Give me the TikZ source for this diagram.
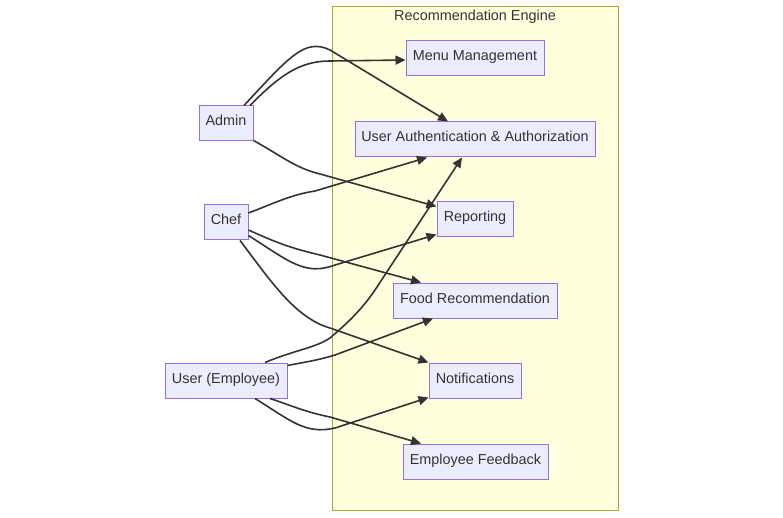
\documentclass[tikz,border=0pt]{standalone}
\usepackage{fontspec}
\setmainfont{Liberation Sans}
\usetikzlibrary{arrows.meta,calc}
\definecolor{nodefill}{HTML}{ECECFF}
\definecolor{nodeline}{HTML}{9370DB}
\definecolor{clusterfill}{HTML}{FFFFDE}
\definecolor{clusterline}{HTML}{AAAA33}
\definecolor{edgecol}{HTML}{333333}
\definecolor{textcol}{HTML}{333333}
\begin{document}
\begin{tikzpicture}[x=1pt,y=-1pt,
  box/.style={draw=nodeline,fill=nodefill,line width=1pt,minimum height=35pt,
    inner xsep=2pt,inner ysep=0pt,text height=10pt,text depth=5pt,
    text=textcol,font=\fontsize{14.4}{16}\selectfont},
  edge/.style={draw=edgecol,line width=1.6pt,-{Triangle[length=10pt,width=9pt]}}]
\useasboundingbox (0,0) rectangle (783,518);
\node[draw=clusterline,fill=clusterfill,line width=1pt,minimum width=286pt,minimum height=503pt,inner sep=0pt] (cluster) at (475,258.5) {};
\node[text=textcol,font=\fontsize{14.4}{16}\selectfont,anchor=base] (title) at (475,20.5) {Recommendation Engine};
\node[box,minimum width=138pt] (menu) at (475,58.5) {Menu Management};
\node[box,minimum width=240pt] (auth) at (475,139.5) {User Authentication \& Authorization};
\node[box,minimum width=76pt] (rep) at (475,219.5) {Reporting};
\node[box,minimum width=164pt] (food) at (475,300.5) {Food Recommendation};
\node[box,minimum width=92pt] (notif) at (475,380.5) {Notifications};
\node[box,minimum width=145pt] (fb) at (475.5,461.5) {Employee Feedback};
\node[box,minimum width=54pt] (admin) at (226,123.5) {Admin};
\node[box,minimum width=44pt] (chef) at (226,222.5) {Chef};
\node[box,minimum width=122pt] (user) at (226,380.5) {User (Employee)};
% Admin edges
\draw[edge] ($(admin.north)+(24,0)$) .. controls (280,75) and (300,61) .. (330,61) -- ($(menu.west)+(0,1.5)$);
\draw[edge] ($(admin.north)+(18,0)$) .. controls (290,56) and (305,38) .. (330,50) -- ($(auth.north)+(-27,0)$);
\draw[edge] ($(admin.south east)+(0,-1)$) .. controls (280,155) and (295,168) .. (320,174) -- ($(rep.north west)+(0,5)$);
% Chef edges
\draw[edge] ($(chef.east)+(0,-9.5)$) .. controls (275,203) and (290,195) .. (315,191) -- ($(auth.south)+(-48,0)$);
\draw[edge] ($(chef.south east)+(0,-5)$) .. controls (290,262) and (305,276) .. (335,265) -- ($(rep.south west)+(0,-3)$);
\draw[edge] ($(chef.east)+(0,7.5)$) .. controls (275,242) and (290,248) .. (320,255) -- ($(food.north)+(-54,0)$);
\draw[edge] ($(chef.south)+(14,0)$) .. controls (270,280) and (295,318) .. (330,328) -- (notif.north west);
% User edges
\draw[edge] ($(user.north)+(39,0)$) .. controls (295,350) and (315,348) .. (330,338) .. controls (345,325) and (360,312) .. (375,290) -- ($(auth.south)+(-13,0)$);
\draw[edge] ($(user.north east)+(0,3)$) .. controls (305,362) and (315,361) .. (335,355) -- ($(food.south)+(-42,0)$);
\draw[edge] ($(user.south)+(29,0)$) .. controls (290,420) and (305,435) .. (335,428) -- ($(notif.south west)+(0,-1)$);
\draw[edge] ($(user.south)+(44,0)$) .. controls (290,405) and (305,412) .. (330,417) -- ($(fb.north)+(-54.5,0)$);
\end{tikzpicture}
\end{document}
